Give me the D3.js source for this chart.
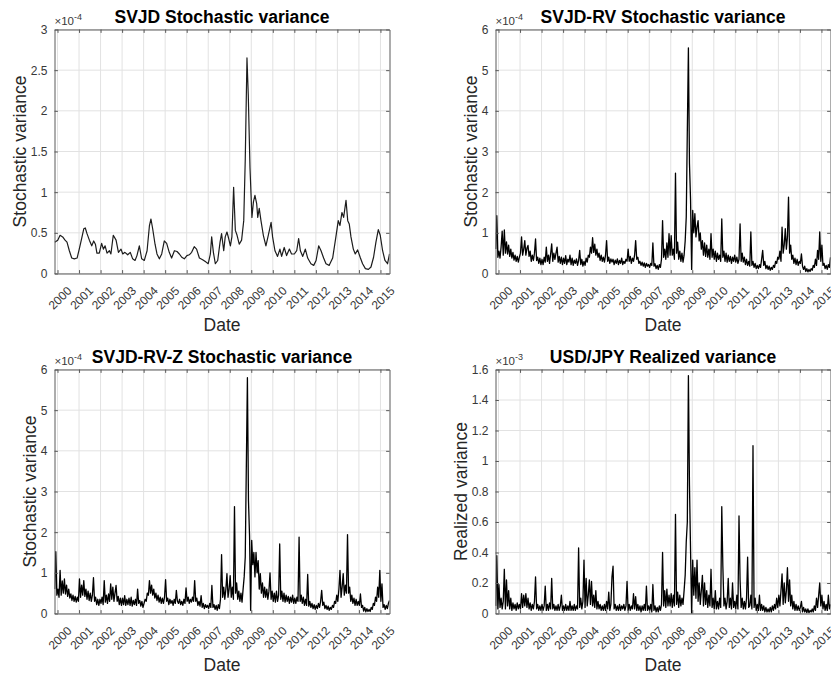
<!DOCTYPE html>
<html>
<head>
<meta charset="utf-8">
<script src="https://cdn.jsdelivr.net/npm/d3@7"></script>
<style>
  body { margin: 0; background: #fff; }
  text { font-family: "Liberation Sans", Arial, Helvetica, sans-serif; }
</style>
</head>
<body>
<svg width="831" height="678"></svg>
<script>
// year ticks on every x axis
const yearTicks = d3.range(2000, 2016);

// SVJD filtered variance (x 1e-4)
const svjdDates = [
  1999.87,
  2000.01, 2000.12, 2000.24, 2000.35, 2000.44, 2000.55, 2000.66, 2000.78, 2000.91,
  2001.01, 2001.12, 2001.22, 2001.29, 2001.37, 2001.48, 2001.59, 2001.68, 2001.76, 2001.83, 2001.94,
  2002.05, 2002.13, 2002.21, 2002.30, 2002.41, 2002.48, 2002.59, 2002.72, 2002.83, 2002.95,
  2003.03, 2003.13, 2003.26, 2003.38, 2003.49, 2003.60, 2003.69, 2003.80, 2003.91,
  2004.03, 2004.16, 2004.27, 2004.34, 2004.42, 2004.53, 2004.62, 2004.73, 2004.84, 2004.96,
  2005.07, 2005.19, 2005.30, 2005.43, 2005.55, 2005.66, 2005.77, 2005.89,
  2006.01, 2006.12, 2006.23, 2006.35, 2006.46, 2006.59, 2006.74, 2006.90,
  2007.00, 2007.10, 2007.16, 2007.24, 2007.33, 2007.44, 2007.55, 2007.62, 2007.72, 2007.79, 2007.87, 2007.95,
  2008.03, 2008.10, 2008.18, 2008.26, 2008.34, 2008.44, 2008.55, 2008.65, 2008.72, 2008.80, 2008.86, 2008.94,
  2009.03, 2009.10, 2009.17, 2009.25, 2009.30, 2009.37, 2009.45, 2009.56, 2009.68, 2009.79, 2009.92, 2009.99,
  2010.10, 2010.22, 2010.33, 2010.41, 2010.53, 2010.64, 2010.77, 2010.87,
  2011.00, 2011.11, 2011.20, 2011.28, 2011.39, 2011.51, 2011.62, 2011.77, 2011.90,
  2012.01, 2012.13, 2012.24, 2012.36, 2012.47, 2012.62, 2012.78, 2012.93,
  2013.04, 2013.12, 2013.21, 2013.29, 2013.40, 2013.48, 2013.55, 2013.63, 2013.74, 2013.83, 2013.94,
  2014.07, 2014.17, 2014.30, 2014.44, 2014.56, 2014.68, 2014.79, 2014.90, 2014.99,
  2015.10, 2015.21, 2015.33, 2015.42
];
const svjdValues = [
  0.385,
  0.41, 0.47, 0.45, 0.41, 0.385, 0.28, 0.19, 0.18, 0.19,
  0.30, 0.43, 0.55, 0.56, 0.49, 0.41, 0.34, 0.40, 0.36, 0.25, 0.25,
  0.37, 0.30, 0.34, 0.25, 0.28, 0.24, 0.47, 0.41, 0.26, 0.30,
  0.24, 0.26, 0.23, 0.26, 0.18, 0.16, 0.22, 0.34, 0.18,
  0.16, 0.28, 0.59, 0.67, 0.55, 0.36, 0.24, 0.18, 0.24, 0.40,
  0.37, 0.26, 0.19, 0.28, 0.27, 0.24, 0.20, 0.18,
  0.22, 0.23, 0.26, 0.33, 0.30, 0.19, 0.17, 0.14,
  0.12, 0.24, 0.45, 0.26, 0.12, 0.16, 0.385, 0.49, 0.28, 0.45, 0.51, 0.43,
  0.34, 0.45, 1.06, 0.53, 0.47, 0.36, 0.41, 0.65, 1.4, 2.65, 2.2, 1.3,
  0.69, 0.88, 0.96, 0.86, 0.69, 0.80, 0.65, 0.47, 0.34, 0.47, 0.63, 0.45,
  0.28, 0.21, 0.30, 0.21, 0.32, 0.22, 0.30, 0.24,
  0.24, 0.28, 0.43, 0.28, 0.21, 0.30, 0.19, 0.12, 0.10,
  0.16, 0.34, 0.28, 0.19, 0.12, 0.10, 0.19, 0.45,
  0.65, 0.59, 0.75, 0.69, 0.90, 0.65, 0.61, 0.45, 0.30, 0.24, 0.29,
  0.19, 0.12, 0.06, 0.05, 0.08, 0.20, 0.385, 0.54, 0.47,
  0.28, 0.16, 0.12, 0.24
];

// the noisy series are read on a grid of 0.05 years starting at 1999.87
const gridStart = 1999.87;
const gridStep = 0.05;

// SVJD-RV variance (x 1e-4), one row per year
const rvValues = [
  0.6, 1.42, 0.4,
  0.55, 0.38, 0.65, 1.04, 0.45, 1.07, 0.5, 0.78, 0.48, 0.7, 0.42, 0.6, 0.38, 0.52, 0.33, 0.45, 0.3, 0.42, 0.28, 0.4,
  0.5, 0.9, 0.45, 0.6, 0.81, 0.45, 0.62, 0.69, 0.42, 0.55, 0.3, 0.45, 0.32, 0.5, 0.85, 0.32, 0.4, 0.25, 0.38, 0.22,
  0.35, 0.22, 0.4, 0.28, 0.65, 0.3, 0.45, 0.25, 0.48, 0.73, 0.3, 0.5, 0.35, 0.5, 0.65, 0.28, 0.42, 0.25, 0.4, 0.22,
  0.38, 0.25, 0.44, 0.22, 0.35, 0.28, 0.45, 0.22, 0.38, 0.2, 0.33, 0.25, 0.36, 0.2, 0.32, 0.57, 0.22, 0.35, 0.18, 0.3,
  0.2, 0.38, 0.28, 0.45, 0.4, 0.65, 0.5, 0.88, 0.52, 0.72, 0.45, 0.6, 0.4, 0.5, 0.32, 0.45, 0.3, 0.4, 0.28, 0.45,
  0.81, 0.3, 0.4, 0.25, 0.36, 0.28, 0.35, 0.22, 0.33, 0.25, 0.36, 0.22, 0.32, 0.25, 0.38, 0.22, 0.3, 0.25, 0.35, 0.3,
  0.6, 0.3, 0.42, 0.25, 0.38, 0.3, 0.45, 0.81, 0.35, 0.4, 0.25, 0.3, 0.2, 0.28, 0.18, 0.26, 0.15, 0.25, 0.18, 0.22,
  0.15, 0.25, 0.2, 0.75, 0.18, 0.24, 0.12, 0.2, 0.1, 0.22, 0.15, 0.35, 1.3, 0.4, 0.6, 0.35, 0.75, 0.4, 0.98, 0.45,
  0.93, 0.45, 0.6, 0.35, 2.47, 0.5, 0.77, 0.35, 0.55, 0.3, 0.5, 0.28, 0.45, 0.8, 1.39, 3.52, 5.55, 2.7, 1.8, 0.1,
  1.55, 1.0, 1.47, 0.9, 1.14, 1.3, 0.8, 1.0, 0.6, 0.81, 0.45, 0.75, 0.42, 0.7, 0.4, 0.6, 0.35, 0.98, 0.4, 0.6,
  0.35, 0.55, 0.3, 0.5, 0.35, 0.45, 0.3, 1.34, 0.4, 0.55, 0.3, 0.5, 0.28, 0.45, 0.3, 0.42, 0.25, 0.4, 0.3, 0.45,
  0.28, 0.4, 0.25, 0.35, 1.22, 0.3, 0.5, 0.28, 0.4, 0.22, 0.35, 0.2, 0.3, 0.18, 1.02, 0.2, 0.3, 0.15, 0.25, 0.12,
  0.2, 0.12, 0.22, 0.15, 0.35, 0.57, 0.2, 0.3, 0.12, 0.2, 0.1, 0.18, 0.08, 0.15, 0.1, 0.2, 0.15, 0.3, 0.25, 0.4,
  0.35, 0.55, 0.3, 1.14, 0.5, 0.7, 1.1, 0.6, 0.9, 1.88, 0.5, 0.7, 0.35, 0.45, 0.25, 0.38, 0.22, 0.35, 0.2, 0.3,
  0.25, 0.48, 0.18, 0.1, 0.18, 0.05, 0.12, 0.04, 0.1, 0.05, 0.12, 0.08, 0.2, 0.15, 0.35, 0.2, 0.57, 0.35, 1.02, 0.3,
  0.7, 0.2, 0.25, 0.12, 0.2, 0.1, 0.22, 0.15, 0.4
];

// SVJD-RV-Z variance (x 1e-4)
const rvzValues = [
  0.6, 1.52, 0.45,
  0.6, 0.4, 1.06, 0.45, 0.8, 0.5, 0.85, 0.48, 0.7, 0.42, 0.6, 0.38, 0.48, 0.32, 0.45, 0.3, 0.42, 0.28, 0.4, 0.3,
  0.85, 0.4, 0.7, 0.45, 0.81, 0.42, 0.6, 0.35, 0.55, 0.32, 0.5, 0.3, 0.45, 0.88, 0.3, 0.4, 0.22, 0.35, 0.2, 0.35,
  0.25, 0.4, 0.22, 0.81, 0.28, 0.45, 0.25, 0.48, 0.3, 0.73, 0.35, 0.65, 0.3, 0.5, 0.69, 0.3, 0.42, 0.22, 0.38, 0.2,
  0.38, 0.22, 0.44, 0.2, 0.35, 0.22, 0.38, 0.2, 0.4, 0.18, 0.32, 0.22, 0.35, 0.2, 0.6, 0.25, 0.32, 0.18, 0.3, 0.15,
  0.25, 0.35, 0.3, 0.5, 0.45, 0.81, 0.5, 0.7, 0.45, 0.6, 0.38, 0.5, 0.32, 0.45, 0.28, 0.4, 0.25, 0.38, 0.25, 0.4,
  0.83, 0.3, 0.38, 0.22, 0.35, 0.25, 0.32, 0.2, 0.35, 0.25, 0.57, 0.3, 0.25, 0.35, 0.22, 0.3, 0.2, 0.35, 0.25, 0.63,
  0.3, 0.4, 0.25, 0.35, 0.28, 0.4, 0.3, 0.81, 0.3, 0.38, 0.2, 0.3, 0.18, 0.44, 0.15, 0.25, 0.12, 0.22, 0.15, 0.2,
  0.12, 0.25, 0.15, 0.69, 0.15, 0.22, 0.1, 0.2, 0.08, 0.22, 0.12, 0.35, 1.45, 0.4, 0.65, 0.35, 0.6, 0.98, 0.4, 0.6,
  0.93, 0.4, 0.65, 0.35, 2.63, 0.5, 0.75, 0.35, 0.55, 0.3, 0.5, 0.28, 0.6, 0.9, 1.39, 3.62, 5.8, 2.77, 1.9, 0.08,
  1.8, 1.2, 1.5, 0.9, 1.5, 1.0, 1.3, 0.6, 0.98, 0.5, 0.75, 0.4, 0.65, 0.4, 0.6, 0.35, 0.55, 1.0, 0.35, 0.55,
  0.3, 0.5, 0.28, 0.55, 0.3, 0.45, 1.71, 0.35, 0.55, 0.3, 0.5, 0.28, 0.45, 0.3, 0.42, 0.25, 0.4, 0.28, 0.45, 0.25,
  0.38, 0.25, 0.4, 0.3, 1.88, 0.3, 0.45, 0.25, 0.4, 0.2, 0.35, 0.2, 0.96, 0.18, 0.3, 0.15, 0.25, 0.12, 0.22, 0.1,
  0.2, 0.12, 0.25, 0.15, 0.3, 0.57, 0.2, 0.28, 0.12, 0.2, 0.1, 0.18, 0.08, 0.15, 0.1, 0.2, 0.15, 0.3, 0.25, 0.45,
  0.3, 0.6, 1.06, 0.4, 0.65, 0.98, 0.45, 0.7, 0.5, 1.94, 0.5, 0.65, 0.3, 0.45, 0.25, 0.38, 0.2, 0.35, 0.2, 0.3,
  0.2, 0.48, 0.15, 0.2, 0.06, 0.15, 0.04, 0.12, 0.05, 0.1, 0.05, 0.15, 0.1, 0.25, 0.2, 0.4, 0.3, 0.65, 0.4, 1.06,
  0.3, 0.73, 0.15, 0.22, 0.1, 0.2, 0.12, 0.25, 0.32
];

// USD/JPY realized variance (x 1e-3)
const jpyValues = [
  0.05, 0.38, 0.03,
  0.19, 0.04, 0.1, 0.03, 0.08, 0.29, 0.03, 0.22, 0.05, 0.15, 0.03, 0.1, 0.02, 0.07, 0.03, 0.06, 0.02, 0.07, 0.03, 0.06,
  0.03, 0.13, 0.04, 0.12, 0.05, 0.13, 0.04, 0.1, 0.03, 0.07, 0.02, 0.06, 0.03, 0.08, 0.24, 0.03, 0.06, 0.02, 0.05, 0.02,
  0.06, 0.02, 0.05, 0.18, 0.02, 0.06, 0.02, 0.07, 0.03, 0.23, 0.03, 0.06, 0.02, 0.05, 0.02, 0.06, 0.02, 0.05, 0.12, 0.02,
  0.05, 0.02, 0.06, 0.02, 0.05, 0.02, 0.08, 0.02, 0.05, 0.02, 0.06, 0.02, 0.05, 0.03, 0.43, 0.04, 0.1, 0.03, 0.08, 0.35,
  0.04, 0.23, 0.05, 0.12, 0.22, 0.06, 0.21, 0.05, 0.12, 0.04, 0.15, 0.03, 0.08, 0.03, 0.06, 0.02, 0.05, 0.02, 0.06, 0.02,
  0.08, 0.03, 0.14, 0.02, 0.06, 0.24, 0.31, 0.03, 0.06, 0.02, 0.05, 0.02, 0.06, 0.02, 0.05, 0.03, 0.06, 0.02, 0.05, 0.21,
  0.02, 0.06, 0.02, 0.05, 0.03, 0.13, 0.03, 0.11, 0.02, 0.06, 0.02, 0.05, 0.01, 0.05, 0.02, 0.06, 0.02, 0.18, 0.02, 0.05,
  0.02, 0.06, 0.01, 0.19, 0.02, 0.05, 0.01, 0.04, 0.01, 0.05, 0.02, 0.06, 0.4, 0.05, 0.15, 0.04, 0.16, 0.05, 0.12, 0.05,
  0.13, 0.04, 0.12, 0.05, 0.65, 0.06, 0.14, 0.04, 0.12, 0.05, 0.1, 0.06, 0.15, 0.25, 0.47, 0.6, 1.56, 0.84, 0.41, 0.0,
  0.35, 0.12, 0.3, 0.1, 0.35, 0.08, 0.2, 0.06, 0.15, 0.25, 0.05, 0.2, 0.06, 0.15, 0.04, 0.12, 0.05, 0.29, 0.04, 0.1,
  0.03, 0.15, 0.03, 0.08, 0.03, 0.1, 0.04, 0.7, 0.31, 0.05, 0.1, 0.03, 0.08, 0.23, 0.04, 0.1, 0.03, 0.2, 0.04, 0.08,
  0.03, 0.12, 0.03, 0.64, 0.22, 0.04, 0.1, 0.03, 0.08, 0.03, 0.1, 0.37, 0.04, 0.05, 0.12, 0.03, 1.1, 0.04, 0.1, 0.02,
  0.06, 0.02, 0.12, 0.02, 0.06, 0.02, 0.05, 0.01, 0.04, 0.01, 0.03, 0.01, 0.04, 0.01, 0.05, 0.02, 0.06, 0.03, 0.1, 0.04,
  0.12, 0.05, 0.15, 0.26, 0.06, 0.2, 0.07, 0.15, 0.3, 0.08, 0.22, 0.05, 0.12, 0.03, 0.08, 0.02, 0.06, 0.02, 0.05, 0.02,
  0.04, 0.08, 0.01, 0.04, 0.01, 0.03, 0.005, 0.03, 0.005, 0.02, 0.01, 0.03, 0.01, 0.05, 0.02, 0.1, 0.04, 0.12, 0.2, 0.05,
  0.12, 0.03, 0.08, 0.02, 0.06, 0.02, 0.12, 0.03, 0.06
];

const gridDates = vals => vals.map((v, i) => gridStart + i * gridStep);

const svg = d3.select('svg');
svg.append('rect').attr('width', 831).attr('height', 678).attr('fill', '#fff');

const W = 335, H = 244;
const xDomain = [1999.86, 2015.42];
const tickLen = 3.4;
const axisColor = '#5a5a5a';

function drawPanel(p) {
  const g = svg.append('g').attr('transform', `translate(${p.left + 0.5},${p.top + 0.5})`);
  const x = d3.scaleLinear().domain(xDomain).range([0, W]);
  const y = d3.scaleLinear().domain([0, p.yMax]).range([H, 0]);
  const yTicks = d3.range(0, Math.round(p.yMax / p.yStep) + 1).map(i => +(i * p.yStep).toFixed(2));

  // grid
  g.append('g').selectAll('line').data(yearTicks).join('line')
    .attr('x1', d => x(d)).attr('x2', d => x(d))
    .attr('y1', 0).attr('y2', H)
    .attr('stroke', '#e2e2e2');
  g.append('g').selectAll('line').data(yTicks).join('line')
    .attr('x1', 0).attr('x2', W)
    .attr('y1', d => y(d)).attr('y2', d => y(d))
    .attr('stroke', '#e2e2e2');

  g.append('clipPath').attr('id', 'clip-' + p.id)
    .append('rect').attr('width', W).attr('height', H);

  g.append('path')
    .datum(d3.zip(p.dates, p.values))
    .attr('clip-path', `url(#clip-${p.id})`)
    .attr('fill', 'none')
    .attr('stroke', p.stroke)
    .attr('stroke-width', p.width)
    .attr('stroke-linejoin', 'round')
    .attr('d', d3.line().x(d => x(d[0])).y(d => y(d[1])));

  // axes, ticks pointing inwards on all four sides
  const xAxis = g.append('g').attr('transform', `translate(0,${H})`)
    .call(d3.axisBottom(x).tickValues(yearTicks).tickFormat(d3.format('d'))
      .tickSizeInner(-tickLen).tickSizeOuter(0));
  xAxis.selectAll('text')
    .attr('x', 0).attr('y', 0).attr('dy', '0.35em')
    .attr('text-anchor', 'end')
    .attr('transform', 'translate(11.5,15) rotate(-45)');

  g.append('g')
    .call(d3.axisTop(x).tickValues(yearTicks).tickFormat('')
      .tickSizeInner(-tickLen).tickSizeOuter(0));

  const yAxis = g.append('g')
    .call(d3.axisLeft(y).tickValues(yTicks).tickFormat(d3.format('~g'))
      .tickSizeInner(-tickLen).tickSizeOuter(0).tickPadding(7));

  g.append('g').attr('transform', `translate(${W},0)`)
    .call(d3.axisRight(y).tickValues(yTicks).tickFormat('')
      .tickSizeInner(-tickLen).tickSizeOuter(0));

  g.selectAll('.tick line').attr('stroke', axisColor);
  g.selectAll('.domain').attr('stroke', axisColor);
  g.selectAll('.tick text')
    .attr('font-size', 12)
    .attr('font-family', '"Liberation Sans", Arial, sans-serif')
    .attr('fill', '#383838');

  // y label sits left of the widest tick label
  const maxTickW = d3.max(yAxis.selectAll('text').nodes(), n => n.getComputedTextLength());
  g.append('text')
    .attr('transform', `translate(${-(7 + maxTickW + 5)},${H / 2}) rotate(-90)`)
    .attr('text-anchor', 'middle')
    .attr('font-size', 17.5)
    .attr('fill', '#262626')
    .text(p.ylabel);

  g.append('text')
    .attr('x', W / 2).attr('y', H + 57)
    .attr('text-anchor', 'middle')
    .attr('font-size', 17.5)
    .attr('fill', '#262626')
    .text('Date');

  g.append('text')
    .attr('x', W / 2).attr('y', -6.5)
    .attr('text-anchor', 'middle')
    .attr('font-size', 17.5)
    .attr('font-weight', 'bold')
    .attr('fill', '#000')
    .text(p.title);

  const ex = g.append('text')
    .attr('x', 0).attr('y', -5)
    .attr('font-size', 11.5)
    .attr('fill', '#383838');
  ex.append('tspan').text('\u00d710');
  ex.append('tspan').attr('dy', -4.5).attr('font-size', 9).text(p.exponent);
}

drawPanel({
  id: 'tl', left: 54, top: 29, yMax: 3, yStep: 0.5, exponent: '-4',
  title: 'SVJD Stochastic variance', ylabel: 'Stochastic variance',
  dates: svjdDates, values: svjdValues, stroke: '#1c1c1c', width: 1.2
});
drawPanel({
  id: 'tr', left: 495, top: 29, yMax: 6, yStep: 1, exponent: '-4',
  title: 'SVJD-RV Stochastic variance', ylabel: 'Stochastic variance',
  dates: gridDates(rvValues), values: rvValues, stroke: '#000', width: 1.3
});
drawPanel({
  id: 'bl', left: 54, top: 369, yMax: 6, yStep: 1, exponent: '-4',
  title: 'SVJD-RV-Z Stochastic variance', ylabel: 'Stochastic variance',
  dates: gridDates(rvzValues), values: rvzValues, stroke: '#000', width: 1.3
});
drawPanel({
  id: 'br', left: 495, top: 369, yMax: 1.6, yStep: 0.2, exponent: '-3',
  title: 'USD/JPY Realized variance', ylabel: 'Realized variance',
  dates: gridDates(jpyValues), values: jpyValues, stroke: '#000', width: 1.3
});
</script>
</body>
</html>
